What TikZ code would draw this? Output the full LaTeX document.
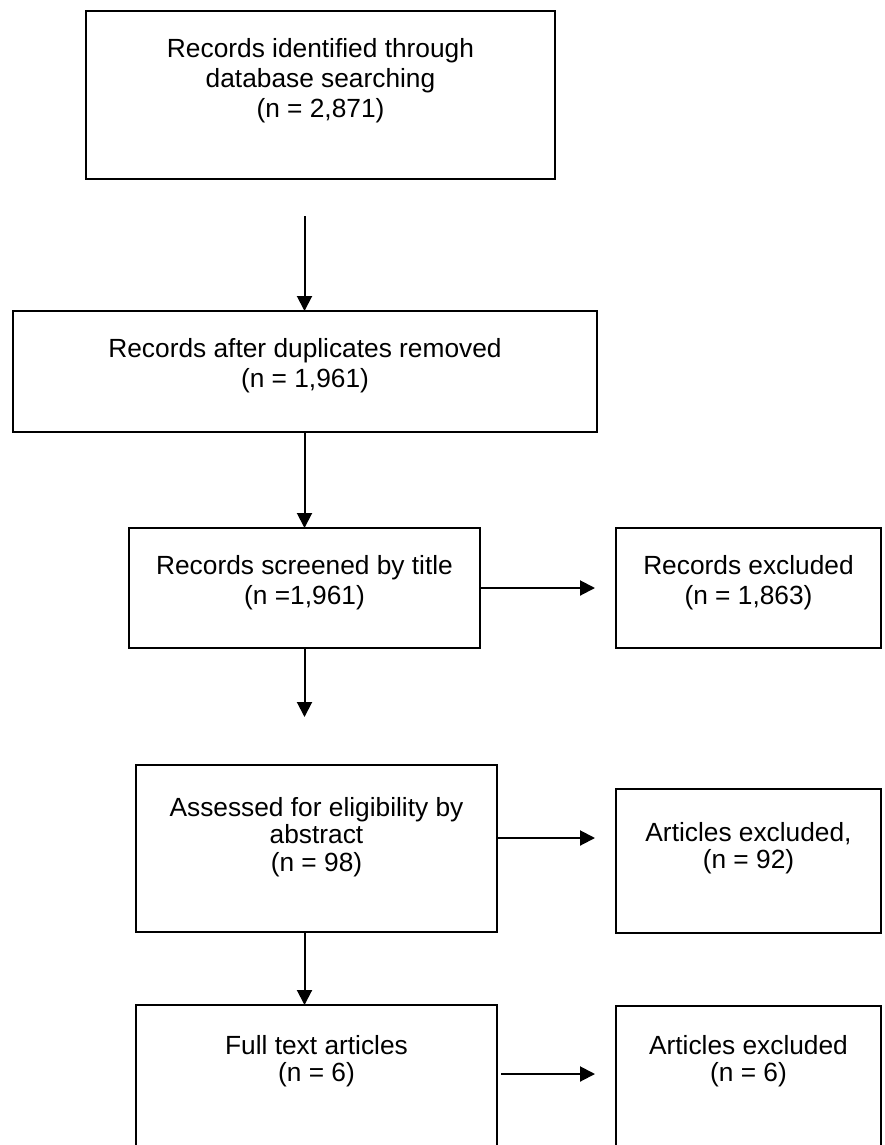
\documentclass[tikz,border=0pt]{standalone}
\usepackage{fontspec}
\setmainfont{Liberation Sans}
\usetikzlibrary{arrows.meta}
\tikzset{
  box/.style={draw=black, line width=2pt, rectangle, inner sep=0pt, outer sep=0pt},
  txt/.style={inner sep=0pt, align=center, anchor=north, font=\fontsize{26.3}{30}\selectfont},
  txtb/.style={inner sep=0pt, align=center, anchor=north, font=\fontsize{26.3}{27.5}\selectfont},
  arr/.style={line width=2pt, -{Triangle[length=15pt,width=15pt]}}
}
\begin{document}
\begin{tikzpicture}[x=1pt,y=-1pt]
\useasboundingbox (0,0) rectangle (884,1145);
\clip (0,0) rectangle (884,1145);
\fill[white] (0,0) rectangle (884,1145);
% boxes
\node[box, minimum width=469pt, minimum height=168pt] (b1) at (320.5,95) {};
\node[box, minimum width=584pt, minimum height=121pt] (b2) at (305,371.5) {};
\node[box, minimum width=351pt, minimum height=120pt] (b3) at (304.5,588) {};
\node[box, minimum width=265pt, minimum height=120pt] (b4) at (748.5,588) {};
\node[box, minimum width=361pt, minimum height=167pt] (b5) at (316.5,848.5) {};
\node[box, minimum width=265pt, minimum height=144pt] (b6) at (748.5,861) {};
\node[box, minimum width=361pt, minimum height=160pt] (b7) at (316.5,1085) {};
\node[box, minimum width=265pt, minimum height=160pt] (b8) at (748.5,1086) {};
% texts
\node[txt] (t1) at (320.5,38) {Records identified through\\database searching\\(n = 2,871)};
\node[txt] (t2) at (305,338) {Records after duplicates removed\\(n = 1,961)};
\node[txt] (t3) at (304.5,555) {Records screened by title\\(n =1,961)};
\node[txt] (t4) at (748.5,555) {Records excluded\\(n = 1,863)};
\node[txtb] (t5) at (316.5,797) {Assessed for eligibility by\\abstract\\(n = 98)};
\node[txtb] (t6) at (748.5,822) {Articles excluded,\\(n = 92)};
\node[txtb] (t7) at (316.5,1035) {Full text articles\\(n = 6)};
\node[txtb] (t8) at (748.5,1035) {Articles excluded\\(n = 6)};
% connectors
\coordinate (a1) at (304.5,216);
\draw[arr] (a1) -- (a1 |- b2.north);
\draw[arr] (b2.south -| b3.north) -- (b3.north);
\coordinate (a3e) at (595,588);
\draw[arr] (b3.east) -- (a3e);
\coordinate (a4) at (304.5,717);
\draw[arr] (a4 |- b3.south) -- (a4);
\coordinate (a5e) at (595,838);
\draw[arr] (a5e -| b5.east) -- (a5e);
\draw[arr] (b5.south -| a1) -- (b7.north -| a1);
\coordinate (a7s) at (501,1074);
\coordinate (a7e) at (595,1074);
\draw[arr] (a7s) -- (a7e);
\end{tikzpicture}
\end{document}
